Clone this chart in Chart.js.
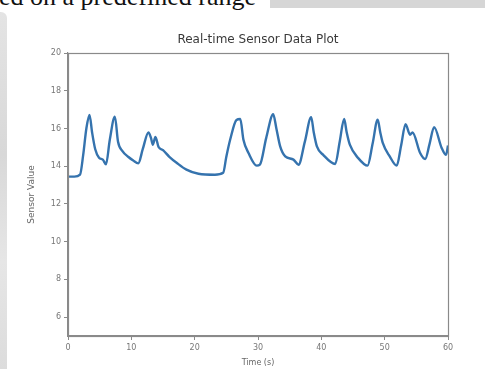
<!DOCTYPE html>
<html>
<head>
<meta charset="utf-8">
<script src="https://cdn.jsdelivr.net/npm/chart.js@4"></script>
<style>
  html, body { margin: 0; padding: 0; background: #fff; width: 485px; height: 369px; overflow: hidden; }
  #wrap { position: relative; width: 485px; height: 369px; }
  #topbar { position: absolute; left: 270px; top: 0; width: 215px; height: 8px; background: #d6d6d6; }
  #leftbar { position: absolute; left: 0; top: 12px; width: 7px; height: 357px; background: linear-gradient(#e4e4e4, #d8d8d8 40%, #e6e6e6 70%, #dcdcdc); border-top-right-radius: 6px; }
  #head { position: absolute; left: -1px; top: -17px; font-family: "Liberation Serif", "DejaVu Serif", serif; font-size: 26px; color: #111; white-space: nowrap; line-height: 28px; }
  canvas { position: absolute; left: 0; top: 0; }
</style>
</head>
<body>
<div id="wrap">
  <div id="topbar"></div>
  <div id="leftbar"></div>
  <div id="head">ed on a predefined range</div>
  <canvas id="c" width="485" height="369"></canvas>
</div>
<script>
const timeValues = [0, 1, 1.9, 2.4, 2.9, 3.4, 3.8, 4.3, 4.9, 5.5, 6.0, 6.6, 7.4, 7.9, 8.6, 9.5, 10.3, 11.1, 11.8, 12.7, 13.1, 13.4, 13.8, 14.3, 15.0, 16.0, 17.2, 18.7, 20.6, 23.2, 24.5, 25.0, 25.6, 26.6, 27.2, 27.7, 28.5, 29.8, 30.3, 31.3, 32.4, 32.9, 33.5, 34.3, 35.6, 36.4, 37.4, 38.4, 38.8, 39.3, 40.3, 42.2, 42.9, 43.6, 44.0, 44.5, 45.8, 47.3, 48.1, 48.9, 49.3, 49.7, 50.8, 51.9, 52.6, 53.3, 54.0, 54.4, 55.6, 56.4, 57.1, 57.8, 59.0, 59.7, 60];
const sensorValues = [13.45, 13.45, 13.55, 14.6, 16.0, 16.72, 15.8, 14.9, 14.45, 14.35, 14.1, 15.4, 16.63, 15.3, 14.8, 14.5, 14.3, 14.15, 14.9, 15.79, 15.5, 15.14, 15.55, 15.02, 14.85, 14.5, 14.17, 13.82, 13.6, 13.55, 13.65, 14.5, 15.4, 16.45, 16.5, 15.4, 14.7, 14.03, 14.08, 15.5, 16.75, 16.0, 15.05, 14.52, 14.35, 14.08, 15.3, 16.6, 15.8, 15.05, 14.6, 14.12, 15.3, 16.5, 15.8, 15.14, 14.44, 14.03, 15.2, 16.46, 15.8, 15.23, 14.52, 14.03, 15.1, 16.23, 15.67, 15.79, 14.7, 14.38, 15.2, 16.07, 14.97, 14.6, 15.1];
const xTicks = [0, 10, 20, 30, 40, 50, 60];
const yTicks = [6, 8, 10, 12, 14, 16, 18, 20];
const chartTitle = "Real-time Sensor Data Plot";
const xLabel = "Time (s)";
const yLabel = "Sensor Value";

const points = timeValues.map((t, i) => ({ x: t, y: sensorValues[i] }));

const frame = {
  id: 'frame',
  afterDatasetsDraw(chart) {
    const a = chart.chartArea, ctx = chart.ctx;
    ctx.save();
    ctx.strokeStyle = '#8a8a8a';
    ctx.lineWidth = 1.2;
    ctx.strokeRect(Math.round(a.left) + 0.5, Math.round(a.top) + 0.5, Math.round(a.right - a.left), Math.round(a.bottom - a.top));
    ctx.fillStyle = '#3a3a3a';
    ctx.font = '12px "DejaVu Sans"';
    ctx.textAlign = 'center';
    ctx.textBaseline = 'middle';
    ctx.fillText(chartTitle, (a.left + a.right) / 2, a.top - 13);
    ctx.restore();
  }
};

const tickFont = { family: 'DejaVu Sans', size: 8 };
new Chart(document.getElementById('c'), {
  type: 'line',
  data: {
    datasets: [{
      data: points,
      borderColor: '#3573ae',
      borderWidth: 2.4,
      pointRadius: 0,
      fill: false,
      cubicInterpolationMode: 'monotone',
      tension: 0.4
    }]
  },
  options: {
    responsive: false,
    animation: false,
    layout: { padding: { left: 0, right: 37, top: 53, bottom: 0 } },
    plugins: {
      legend: { display: false },
      tooltip: { enabled: false },
      title: { display: false }
    },
    scales: {
      x: {
        type: 'linear',
        min: 0, max: 60,
        afterBuildTicks(s) { s.ticks = xTicks.map(v => ({ value: v })); },
        afterFit(s) { s.height = 33; },
        ticks: { color: '#777', font: tickFont, padding: 3, maxRotation: 0 },
        grid: { drawOnChartArea: false, drawTicks: true, tickLength: 4, color: '#8a8a8a' },
        border: { display: true, color: '#8a8a8a', width: 1.2 },
        title: { display: true, text: xLabel, color: '#666', font: { family: 'DejaVu Sans', size: 8 }, padding: { top: 0, bottom: 1 } }
      },
      y: {
        type: 'linear',
        min: 5, max: 20,
        afterBuildTicks(s) { s.ticks = yTicks.map(v => ({ value: v })); },
        afterFit(s) { s.width = 68; },
        ticks: { color: '#777', font: tickFont, padding: 3 },
        grid: { drawOnChartArea: false, drawTicks: true, tickLength: 4, color: '#8a8a8a' },
        border: { display: true, color: '#8a8a8a', width: 1.2 },
        title: { display: true, text: yLabel, color: '#666', font: { family: 'DejaVu Sans', size: 9 }, padding: { top: 26, bottom: 0 } }
      }
    }
  },
  plugins: [frame]
});
</script>
</body>
</html>
